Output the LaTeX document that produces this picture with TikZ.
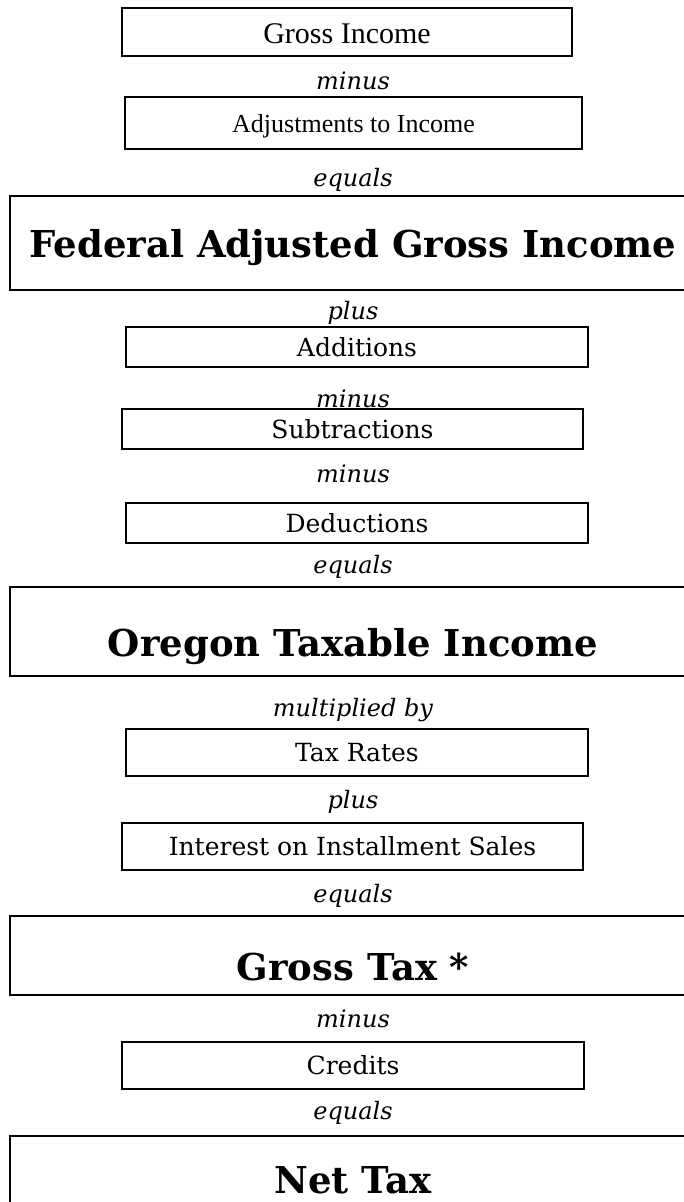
\documentclass[tikz,border=0pt]{standalone}
\usepackage{fontspec}
\setmainfont{DejaVu Serif}
\newfontfamily\timesfont{Liberation Serif}
\usepackage{tikz}
\tikzstyle{box} = [rectangle, draw=black, line width=2.8pt, inner sep=0pt,
    text centered, text height=18pt, text depth=0pt]
\tikzstyle{smallbox} = [box, minimum width=462pt, minimum height=40pt,
    font=\fontsize{25}{29}\selectfont]
\tikzstyle{bigbox} = [box, minimum width=690pt]
\tikzstyle{bigtext} = [inner sep=0pt, text height=27pt, text depth=0pt,
    font=\bfseries\fontsize{37}{42}\selectfont]
\tikzstyle{oplabel} = [inner sep=0pt, text height=17pt, text depth=5pt,
    font=\itshape\fontsize{24}{28}\selectfont]

\begin{document}
\begin{tikzpicture}[x=1pt, y=1pt]
  \useasboundingbox (0,0) rectangle (684,-1202);
  \clip (0,0) rectangle (684,-1202);

  \node[smallbox, minimum width=450pt, minimum height=48pt, text height=22pt,
    font=\timesfont\fontsize{30}{34}\selectfont](gross) at (347,-32){Gross Income};
  \node[oplabel](op1) at (353,-83){minus};
  \node[smallbox, minimum width=457pt, minimum height=52pt, text height=19pt,
    font=\timesfont\fontsize{26}{30}\selectfont](adj) at (353.5,-123){Adjustments to Income};
  \node[oplabel](op2) at (353,-180){equals};

  \node[bigbox, minimum height=94pt](fagi) at (355,-243){};
  \node[bigtext](fagitext) at (353,-244){Federal Adjusted Gross Income};
  \node[oplabel](op3) at (353,-313){plus};
  \node[smallbox](add) at (357,-347){Additions};
  \node[oplabel](op4) at (353,-401){minus};
  \node[smallbox, minimum width=461pt](sub) at (352.5,-429){Subtractions};
  \node[oplabel](op5) at (353,-476){minus};
  \node[smallbox](ded) at (357,-523){Deductions};
  \node[oplabel](op6) at (353,-567){equals};

  \node[bigbox, minimum height=89pt](oti) at (355,-631.5){};
  \node[bigtext](otitext) at (353,-643){Oregon Taxable Income};
  \node[oplabel](op7) at (353,-710){multiplied by};
  \node[smallbox, minimum height=47pt](rates) at (357,-752.5){Tax Rates};
  \node[oplabel](op8) at (353,-802){plus};
  \node[smallbox, minimum width=461pt, minimum height=47pt](inst) at (352.5,-846.5){Interest on Installment Sales};
  \node[oplabel](op9) at (353,-896){equals};

  \node[bigbox, minimum height=79pt](gtax) at (355,-955.5){};
  \node[bigtext](gtaxtext) at (353,-967){Gross Tax *};
  \node[oplabel](op10) at (353,-1021){minus};
  \node[smallbox, minimum height=47pt](cred) at (353,-1065.5){Credits};
  \node[oplabel](op11) at (353,-1113){equals};

  \node[bigbox, minimum height=100pt](ntax) at (355,-1186){};
  \node[bigtext](ntaxtext) at (353,-1180){Net Tax};
\end{tikzpicture}
\end{document}
